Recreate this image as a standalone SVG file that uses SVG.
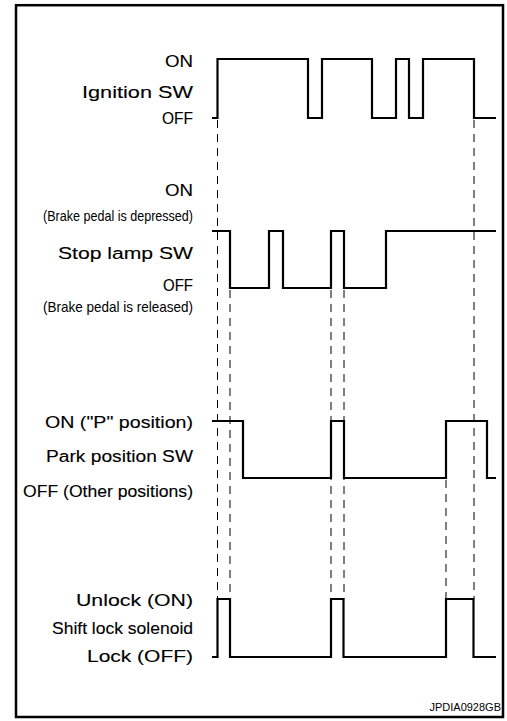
<svg xmlns="http://www.w3.org/2000/svg" width="507" height="721" viewBox="0 0 507 721">
<style>
.frame{fill:#fff;stroke:#000;stroke-width:2.5}
.wave{fill:none;stroke:#000;stroke-width:2.2;stroke-linejoin:miter;stroke-linecap:butt}
.dash{fill:none;stroke:#000;stroke-width:1;stroke-dasharray:8 6}
.lbl{font-family:"Liberation Sans",Arial,Helvetica,sans-serif;font-size:16px;fill:#000;stroke:#000;stroke-width:0.12;text-anchor:end}
.sm{font-family:"Liberation Sans Narrow","Liberation Sans",Arial,sans-serif;font-size:15px;fill:#000;text-anchor:end}
.code{font-family:"Liberation Sans",Arial,Helvetica,sans-serif;font-size:11px;fill:#000;text-anchor:end}
</style>
<rect class="frame" x="16" y="5.2" width="487" height="711.8"/>
<g id="connectors">
<line class="dash" x1="217.5" y1="120" x2="217.5" y2="599"/>
<line class="dash" x1="230" y1="290" x2="230" y2="599"/>
<line class="dash" x1="331" y1="290" x2="331" y2="599"/>
<line class="dash" x1="344" y1="290" x2="344" y2="599"/>
<line class="dash" x1="446" y1="480" x2="446" y2="599"/>
<line class="dash" x1="474" y1="120" x2="474" y2="599"/>
</g>
<g id="ignition-sw">
<text class="lbl" x="193" y="67" textLength="28" lengthAdjust="spacingAndGlyphs">ON</text>
<text class="lbl" x="193" y="98" textLength="111" lengthAdjust="spacingAndGlyphs">Ignition SW</text>
<text class="lbl" x="193" y="124" textLength="31" lengthAdjust="spacingAndGlyphs">OFF</text>
<path class="wave" d="M212,118 H217.5 V59 H308 V118 H322 V59 H372 V118 H396 V59 H409 V118 H423 V59 H474 V118 H496"/>
</g>
<g id="stop-lamp-sw">
<text class="lbl" x="193" y="196" textLength="28" lengthAdjust="spacingAndGlyphs">ON</text>
<text class="sm" x="193" y="221" textLength="150" lengthAdjust="spacingAndGlyphs">(Brake pedal is depressed)</text>
<text class="lbl" x="193" y="259" textLength="135" lengthAdjust="spacingAndGlyphs">Stop lamp SW</text>
<text class="lbl" x="193" y="291" textLength="30" lengthAdjust="spacingAndGlyphs">OFF</text>
<text class="sm" x="193" y="312" textLength="150" lengthAdjust="spacingAndGlyphs">(Brake pedal is released)</text>
<path class="wave" d="M212,231 H230 V288 H269 V231 H283 V288 H331 V231 H344 V288 H386 V231 H496"/>
</g>
<g id="park-position-sw">
<text class="lbl" x="193" y="428" textLength="148" lengthAdjust="spacingAndGlyphs">ON  ("P" position)</text>
<text class="lbl" x="193" y="462" textLength="147" lengthAdjust="spacingAndGlyphs">Park position SW</text>
<text class="lbl" x="193" y="497" textLength="170" lengthAdjust="spacingAndGlyphs">OFF (Other positions)</text>
<path class="wave" d="M212,421 H243 V478 H331 V421 H344 V478 H446 V421 H487 V478 H496"/>
</g>
<g id="shift-lock-solenoid">
<text class="lbl" x="193" y="606" textLength="117" lengthAdjust="spacingAndGlyphs">Unlock (ON)</text>
<text class="lbl" x="193" y="634" textLength="141" lengthAdjust="spacingAndGlyphs">Shift lock solenoid</text>
<text class="lbl" x="193" y="662" textLength="106" lengthAdjust="spacingAndGlyphs">Lock (OFF)</text>
<path class="wave" d="M212,657 H217.5 V599 H230 V657 H331 V599 H343.5 V657 H446 V599 H473.5 V657 H496"/>
</g>
<text class="code" x="501" y="711">JPDIA0928GB</text>
</svg>
